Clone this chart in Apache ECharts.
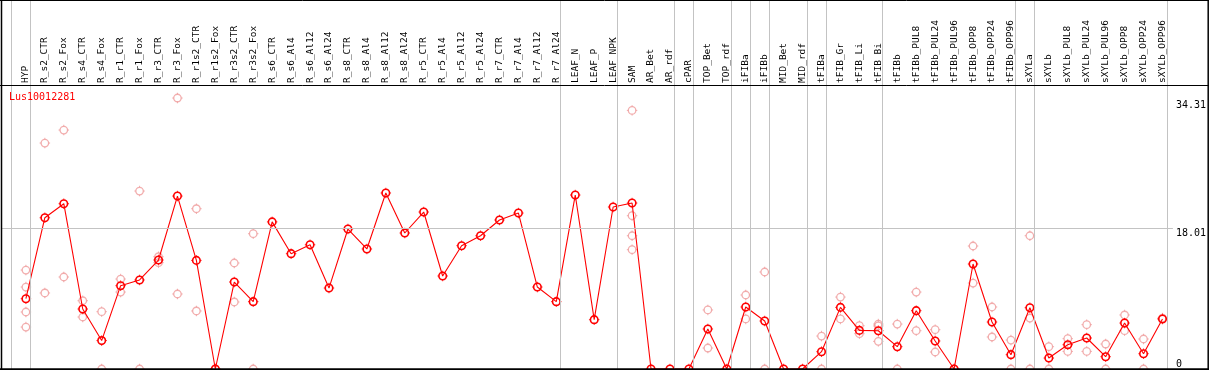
<!DOCTYPE html>
<html>
<head>
<meta charset="utf-8">
<script src="https://cdn.jsdelivr.net/npm/echarts@6/dist/echarts.min.js"></script>
<style>
html,body{margin:0;padding:0;background:#fff;}
#chart{width:1209px;height:370px;}
</style>
</head>
<body>
<div id="chart"></div>
<script>
// ---- data ----
const categories = ['HYP','R_s2_CTR','R_s2_Fox','R_s4_CTR','R_s4_Fox','R_r1_CTR','R_r1_Fox','R_r3_CTR','R_r3_Fox','R_r1s2_CTR','R_r1s2_Fox','R_r3s2_CTR','R_r3s2_Fox','R_s6_CTR','R_s6_Al4','R_s6_Al12','R_s6_Al24','R_s8_CTR','R_s8_Al4','R_s8_Al12','R_s8_Al24','R_r5_CTR','R_r5_Al4','R_r5_Al12','R_r5_Al24','R_r7_CTR','R_r7_Al4','R_r7_Al12','R_r7_Al24','LEAF_N','LEAF_P','LEAF_NPK','SAM','AR_Bet','AR_rdf','cPAR','TOP_Bet','TOP_rdf','iFIBa','iFIBb','MID_Bet','MID_rdf','tFIBa','tFIB_Gr','tFIB_Li','tFIB_Bi','tFIBb','tFIBb_PUL8','tFIBb_PUL24','tFIBb_PUL96','tFIBb_OPP8','tFIBb_OPP24','tFIBb_OPP96','sXYLa','sXYLb','sXYLb_PUL8','sXYLb_PUL24','sXYLb_PUL96','sXYLb_OPP8','sXYLb_OPP24','sXYLb_OPP96'];

const meanValues = [8.98,19.32,21.11,7.66,3.63,10.64,11.37,13.92,22.09,13.87,
  0,11.11,8.60,18.79,14.73,15.87,10.34,17.88,15.33,22.48,
  17.37,20.05,11.88,15.75,17.02,19.03,19.92,10.47,8.60,22.22,
  6.30,20.69,21.20,0,0,0,5.11,0,7.92,6.13,
  0,0,2.21,7.87,4.93,4.89,2.85,7.45,3.58,0,
  13.41,6.00,1.83,7.83,1.40,3.10,3.96,1.57,5.87,1.95,6.39];

const replicateValues = [
  [12.64,10.47,7.28,5.36],[28.86,9.71],[30.52,11.75],[8.72,6.64],[7.32,0],
  [11.49,9.83],[22.73,0],[14.34,13.58],[34.61,9.58],[20.47,7.41],
  [0],[13.54,8.56],[17.28,0],[],[],
  [],[],[],[],[],
  [],[],[],[],[],
  [],[],[],[],[],
  [],[],[33.03,19.58,17.02,15.24],[],[],
  [],[7.54,2.68],[],[9.45,6.39],[12.39,0],
  [],[],[4.21,0],[9.19,6.39],[5.53,4.51],
  [5.74,5.50,3.53],[5.74,0],[9.83,4.89],[5.02,2.17],[0],
  [15.71,10.98],[7.92,4.09],[3.70,0],[17.02,6.51,0],[2.85,0],
  [3.87,2.25],[5.66,2.25],[3.19,0],[6.90,4.89],[3.83,0],
  [6.50]
];

const groupEnds = [-1,0,28,31,34,35,37,38,39,41,42,45,52,53,60];
const yTickValues = [18.01, 34.31];
const yZeroTick = [0];
const refLineValue = 18.01;
const geneName = 'Lus10012281';

// ---- build ----
const FONT = 'DejaVu Sans Mono';
const mainData = meanValues.map((v,i)=>[i,v]);
const repData = [];
replicateValues.forEach((arr,i)=>arr.forEach(v=>repData.push([i,v])));
// ring (built-in circle) plus a tiny 4-tick overlay symbol
const tickSym = 'path://M5,0L5,1.4M5,8.6L5,10M0,5L1.4,5M8.6,5L10,5';

const chart = echarts.init(document.getElementById('chart'), null, {renderer:'canvas'});
chart.setOption({
  animation:false,
  backgroundColor:'#ffffff',
  title:{text:geneName,left:9,top:92,padding:0,
    textStyle:{color:'#ff0000',fontSize:10,fontFamily:FONT,fontWeight:'normal'}},
  grid:{left:1,right:32,top:0,bottom:1},
  xAxis:{type:'value',min:-1.315,max:60.55,position:'top',offset:-85,
    axisLine:{show:false},axisTick:{show:false},splitLine:{show:false},
    axisLabel:{customValues:categories.map((c,i)=>i),formatter:v=>categories[Math.round(v)],
      rotate:90,margin:2,fontSize:9.5,fontFamily:FONT,color:'#000'}},
  yAxis:[
    {type:'value',min:0,max:47.13,position:'right',
      axisLine:{show:false},axisTick:{show:false},splitLine:{show:false},
      axisLabel:{customValues:yTickValues,formatter:v=>v.toFixed(2),verticalAlign:'top',
        margin:3,fontSize:10,fontFamily:FONT,color:'#000'}},
    {type:'value',min:0,max:47.13,position:'right',
      axisLine:{show:false},axisTick:{show:false},splitLine:{show:false},
      axisLabel:{customValues:yZeroTick,formatter:v=>String(v),verticalAlign:'bottom',
        margin:3,fontSize:10,fontFamily:FONT,color:'#000'}}
  ],
  series:[
    {type:'line',data:[],z:1,silent:true,
      markLine:{silent:true,symbol:['none','none'],label:{show:false},animation:false,
        lineStyle:{color:'#c3c3c3',type:'solid',width:1},
        data:groupEnds.map(g=>({xAxis:g+0.23})).concat([{yAxis:refLineValue}])}},
    {type:'scatter',data:repData,z:2,symbol:'circle',symbolSize:7.5,
      itemStyle:{color:'rgba(0,0,0,0)',borderColor:'#ef9a9a',borderWidth:1.3}},
    {type:'scatter',data:repData,z:2,symbol:tickSym,symbolSize:10.5,
      itemStyle:{color:'rgba(0,0,0,0)',borderColor:'#ef9a9a',borderWidth:1}},
    {type:'line',data:mainData,z:3,symbol:'circle',symbolSize:7.5,showAllSymbol:true,
      lineStyle:{color:'#ff0000',width:1.1},
      itemStyle:{color:'rgba(0,0,0,0)',borderColor:'#ff0000',borderWidth:1.6}},
    {type:'scatter',data:mainData,z:3,symbol:tickSym,symbolSize:10.5,
      itemStyle:{color:'rgba(0,0,0,0)',borderColor:'#ff0000',borderWidth:1}}
  ],
  graphic:[
    {type:'line',z:100,shape:{x1:0,y1:0.5,x2:1209,y2:0.5},style:{stroke:'#000',lineWidth:1}},
    {type:'line',z:100,shape:{x1:0,y1:85.5,x2:1209,y2:85.5},style:{stroke:'#000',lineWidth:1}},
    {type:'line',z:100,shape:{x1:1.5,y1:0,x2:1.5,y2:370},style:{stroke:'#000',lineWidth:1.5}},
    {type:'line',z:100,shape:{x1:1208.2,y1:0,x2:1208.2,y2:370},style:{stroke:'#000',lineWidth:1.5}},
    {type:'line',z:100,shape:{x1:0,y1:369.3,x2:1209,y2:369.3},style:{stroke:'#000',lineWidth:2}}
  ]
});
</script>
</body>
</html>
